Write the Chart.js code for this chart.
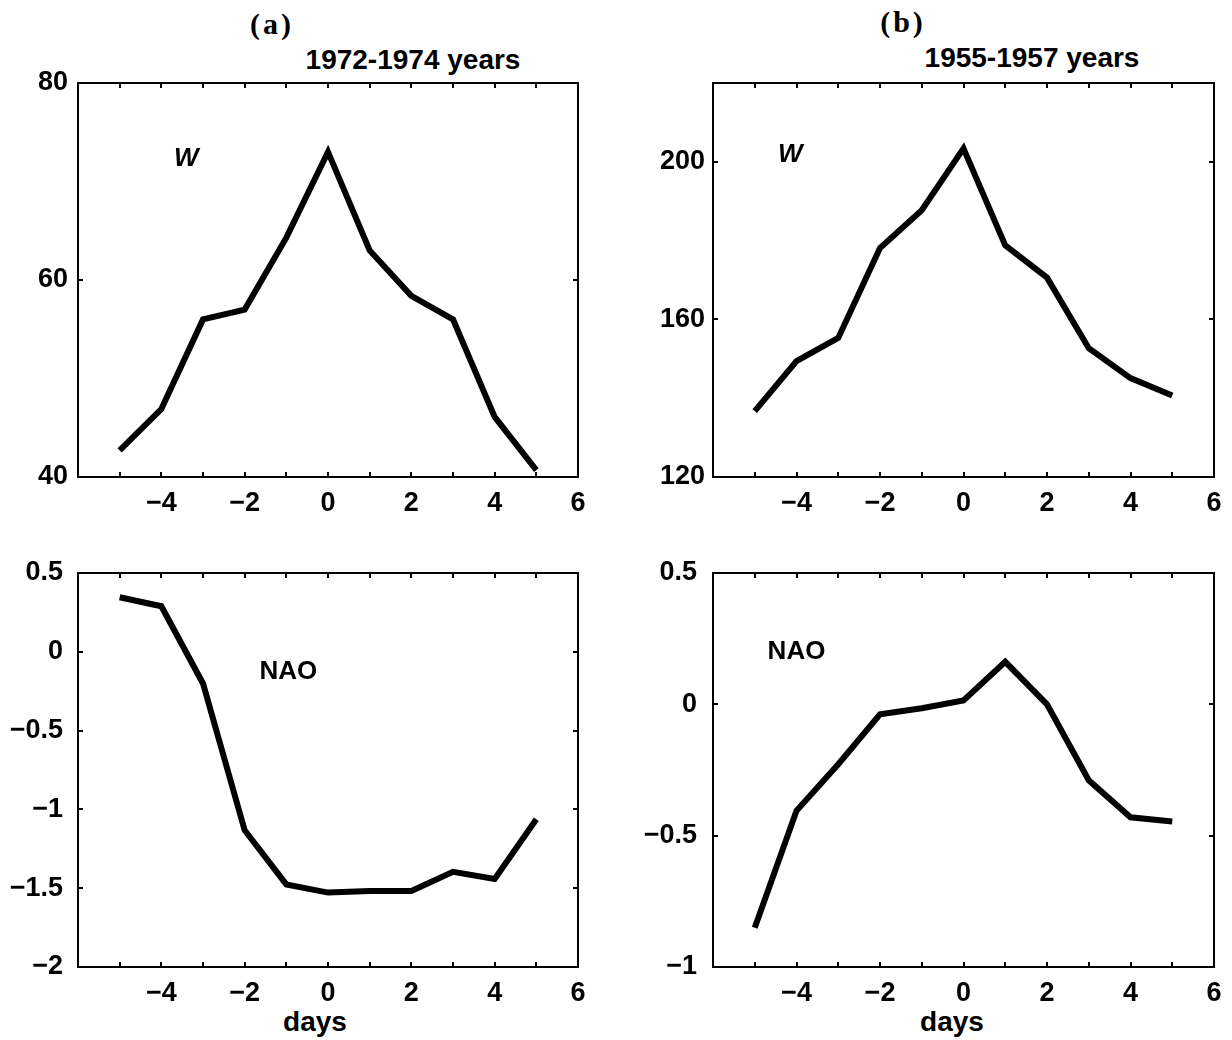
<!DOCTYPE html>
<html>
<head>
<meta charset="utf-8">
<script src="https://cdn.jsdelivr.net/npm/chart.js@4.4.0/dist/chart.umd.min.js"></script>
<style>
  body { margin: 0; background: #fff; }
  #lienzo { position: relative; width: 1232px; height: 1040px; overflow: hidden; font-family: 'Liberation Sans', Arial, Helvetica, sans-serif; }
  #lienzo canvas { position: absolute; left: 0; top: 0; }
  .txt { position: absolute; color: #000; font-weight: bold; white-space: nowrap; transform: translate(-50%, -50%); }
  .letra { font-family: 'Liberation Serif', 'Times New Roman', serif; font-size: 30px; letter-spacing: 3px; }
  .titulo { font-size: 28px; }
</style>
</head>
<body>
<div id="lienzo">
  <div class="txt letra" style="left:272px; top:24px;">(a)</div>
  <div class="txt titulo" style="left:413px; top:60px;">1972-1974 years</div>
  <div class="txt letra" style="left:903px; top:22px;">(b)</div>
  <div class="txt titulo" style="left:1032px; top:58px;">1955-1957 years</div>
  <div class="txt titulo" style="left:315px; top:1022px;">days</div>
  <div class="txt titulo" style="left:952px; top:1022px;">days</div>
  <canvas id="c1" width="1232" height="1040"></canvas>
  <canvas id="c2" width="1232" height="1040"></canvas>
  <canvas id="c3" width="1232" height="1040"></canvas>
  <canvas id="c4" width="1232" height="1040"></canvas>
</div>
<script>
// dias respecto al evento
const dias = [-5, -4, -3, -2, -1, 0, 1, 2, 3, 4, 5];

// valores
const wA = [42.7, 46.9, 56.0, 57.0, 64.3, 73.0, 63.0, 58.4, 56.0, 46.1, 40.7];
const wB = [136.7, 149.4, 155.3, 178.1, 187.7, 203.4, 178.8, 170.6, 152.7, 145.1, 140.7];
const naoA = [0.346, 0.289, -0.201, -1.132, -1.476, -1.528, -1.518, -1.518, -1.396, -1.442, -1.063];
const naoB = [-0.851, -0.405, -0.228, -0.038, -0.015, 0.015, 0.162, 0.0, -0.289, -0.430, -0.446];

// marcas de los ejes
const xTicks = [-6, -5, -4, -3, -2, -1, 0, 1, 2, 3, 4, 5, 6];
const xEtiquetas = [-4, -2, 0, 2, 4, 6];
const yTicksWA = [40, 60, 80];
const yTicksWB = [120, 160, 200];
const yTicksNaoA = [-2, -1.5, -1, -0.5, 0, 0.5];
const yTicksNaoB = [-1, -0.5, 0, 0.5];

Chart.defaults.font.family = "'Liberation Sans', Arial, Helvetica, sans-serif";
Chart.defaults.color = '#000';

function etiqueta(v) {
  const s = String(Math.abs(v));
  return v < 0 ? '\u2212' + s : s;
}

// caja y marcas hacia dentro, estilo matlab
const marco = {
  id: 'marco',
  afterDatasetsDraw(chart, args, opts) {
    const ctx = chart.ctx;
    const a = chart.chartArea;
    const sx = chart.scales.x, sy = chart.scales.y;
    const L = 5;
    ctx.save();
    ctx.strokeStyle = '#000';
    ctx.lineWidth = 2;
    ctx.beginPath();
    xTicks.forEach(v => {
      const px = Math.round(sx.getPixelForValue(v));
      ctx.moveTo(px, a.bottom); ctx.lineTo(px, a.bottom - L);
      ctx.moveTo(px, a.top); ctx.lineTo(px, a.top + L);
    });
    opts.yTicks.forEach(v => {
      const py = Math.round(sy.getPixelForValue(v));
      ctx.moveTo(a.left, py); ctx.lineTo(a.left + L, py);
      ctx.moveTo(a.right, py); ctx.lineTo(a.right - L, py);
    });
    ctx.stroke();
    ctx.strokeRect(a.left, a.top, a.right - a.left, a.bottom - a.top);

    // rotulo de la serie
    const t = opts.rotulo;
    ctx.fillStyle = '#000';
    ctx.font = (t.italica ? 'italic ' : '') + 'bold 26px ' + Chart.defaults.font.family;
    ctx.textAlign = 'center';
    ctx.textBaseline = 'middle';
    ctx.fillText(t.texto, sx.getPixelForValue(t.x), sy.getPixelForValue(t.y));
    ctx.restore();
  }
};

const paneles = [
  { id: 'c1', area: [78, 83, 578, 477], datos: wA, yMin: 40, yMax: 80, yTicks: yTicksWA, pad: 2,
    rotulo: { texto: 'W', x: -3.4, y: 72.3, italica: true } },
  { id: 'c2', area: [713, 83, 1214, 477], datos: wB, yMin: 120, yMax: 220, yTicks: yTicksWB, pad: 0,
    rotulo: { texto: 'W', x: -4.15, y: 201.8, italica: true } },
  { id: 'c3', area: [78, 573, 578, 967], datos: naoA, yMin: -2, yMax: 0.5, yTicks: yTicksNaoA, pad: 7,
    rotulo: { texto: 'NAO', x: -0.95, y: -0.13, italica: false } },
  { id: 'c4', area: [713, 573, 1214, 967], datos: naoB, yMin: -1, yMax: 0.5, yTicks: yTicksNaoB, pad: 8,
    rotulo: { texto: 'NAO', x: -4.0, y: 0.2, italica: false } }
];

const anchoEjeY = 76;
const altoEjeX = 44;

paneles.forEach(p => {
  const [l, t, r, b] = p.area;
  new Chart(document.getElementById(p.id).getContext('2d'), {
    type: 'line',
    data: {
      datasets: [{
        data: dias.map((d, i) => ({ x: d, y: p.datos[i] })),
        borderColor: '#000',
        borderWidth: 6,
        borderJoinStyle: 'miter',
        pointRadius: 0,
        tension: 0,
        fill: false
      }]
    },
    options: {
      responsive: false,
      animation: false,
      events: [],
      layout: { padding: { left: l - anchoEjeY, top: t, right: 1232 - r, bottom: 1040 - b - altoEjeX } },
      plugins: {
        legend: { display: false },
        tooltip: { enabled: false },
        marco: { yTicks: p.yTicks, rotulo: p.rotulo }
      },
      scales: {
        x: {
          type: 'linear',
          min: -6, max: 6,
          grid: { display: false },
          border: { display: false },
          afterBuildTicks: s => { s.ticks = xTicks.map(v => ({ value: v })); },
          afterFit: s => { s.height = altoEjeX; s.paddingLeft = 0; s.paddingRight = 0; },
          ticks: {
            autoSkip: false, maxRotation: 0, padding: 2,
            font: { size: 27, weight: 'bold' },
            callback: v => xEtiquetas.includes(v) ? etiqueta(v) : ''
          }
        },
        y: {
          min: p.yMin, max: p.yMax,
          grid: { display: false },
          border: { display: false },
          afterBuildTicks: s => { s.ticks = p.yTicks.map(v => ({ value: v })); },
          afterFit: s => { s.width = anchoEjeY; s.paddingTop = 0; s.paddingBottom = 0; },
          ticks: {
            padding: p.pad,
            font: { size: 27, weight: 'bold' },
            callback: v => etiqueta(v)
          }
        }
      }
    },
    plugins: [marco]
  });
});
</script>
</body>
</html>
